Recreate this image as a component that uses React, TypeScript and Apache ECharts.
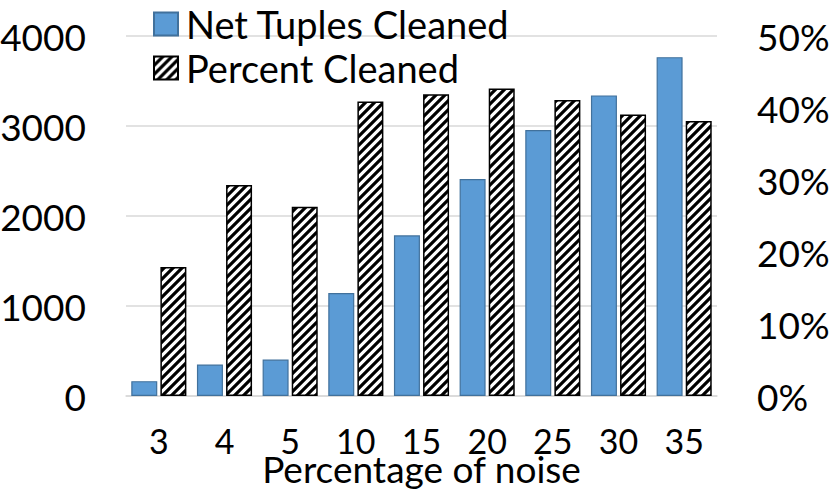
import React, { useEffect, useRef } from "react";
import * as echarts from "echarts";

const categories = ["3", "4", "5", "10", "15", "20", "25", "30", "35"];
const netTuplesCleaned = [165, 350, 405, 1145, 1785, 2410, 2955, 3340, 3765];
const percentCleaned = [17.9, 29.3, 26.3, 40.9, 41.9, 42.7, 41.1, 39.1, 38.2];
const leftTicks = { min: 0, max: 4000, interval: 1000 };
const rightTicks = { min: 0, max: 50, interval: 10 };

function makeHatch(): string {
  const s = 9;
  const c = document.createElement("canvas");
  c.width = s;
  c.height = s;
  const ctx = c.getContext("2d")!;
  ctx.fillStyle = "#ffffff";
  ctx.fillRect(0, 0, s, s);
  ctx.strokeStyle = "#000000";
  ctx.lineWidth = 3.2;
  ctx.lineCap = "square";
  const seg = (x1: number, y1: number, x2: number, y2: number) => {
    ctx.beginPath();
    ctx.moveTo(x1, y1);
    ctx.lineTo(x2, y2);
    ctx.stroke();
  };
  seg(-1, s + 1, s + 1, -1);
  seg(-s / 2 - 1, s / 2 + 1, s / 2 + 1, -s / 2 - 1);
  seg(s / 2 - 1, s * 1.5 + 1, s * 1.5 + 1, s / 2 - 1);
  return c.toDataURL();
}

export default function App() {
  const ref = useRef<HTMLDivElement>(null);
  useEffect(() => {
    document.body.style.margin = "0";
    if (!ref.current) return;
    const chart = echarts.init(ref.current, undefined, { renderer: "svg" });
    const hatch = { image: makeHatch(), repeat: "repeat" } as any;
    const font = "Lato";
    chart.setOption({
      animation: false,
      textStyle: { fontFamily: font },
      legend: {
        orient: "vertical",
        left: 148,
        top: 0,
        icon: "rect",
        itemWidth: 24,
        itemHeight: 23,
        itemGap: 6,
        textStyle: { fontSize: 38, color: "#000", fontFamily: font, padding: [0, 0, 0, 3] },
        data: ["Net Tuples Cleaned", "Percent Cleaned"],
      },
      grid: { left: 126, right: 113, top: 36, bottom: 102, outerBoundsMode: "none", containLabel: false },
      xAxis: {
        type: "category",
        data: categories,
        axisTick: { show: false },
        axisLine: { lineStyle: { color: "#D9D9D9", width: 1.5 } },
        axisLabel: { fontSize: 34, lineHeight: 26, color: "#000", margin: 31, fontFamily: font },
        name: "Percentage of noise",
        nameLocation: "middle",
        nameGap: 58,
        nameMoveOverlap: false,
        nameTextStyle: { fontSize: 37, lineHeight: 28, color: "#000", fontFamily: font },
      },
      yAxis: [
        {
          type: "value",
          min: leftTicks.min,
          max: leftTicks.max,
          interval: leftTicks.interval,
          axisLine: { show: false },
          axisTick: { show: false },
          splitLine: { lineStyle: { color: "#D9D9D9", width: 1.5 } },
          axisLabel: {
            fontSize: 37,
            color: "#000",
            margin: 40,
            fontFamily: font,
            formatter: (v: number) => String(v),
          },
        },
        {
          type: "value",
          min: rightTicks.min,
          max: rightTicks.max,
          interval: rightTicks.interval,
          position: "right",
          axisLine: { show: false },
          axisTick: { show: false },
          splitLine: { show: false },
          axisLabel: { fontSize: 37, color: "#000", margin: 40, fontFamily: font, formatter: "{value}%" },
        },
      ],
      series: [
        {
          name: "Net Tuples Cleaned",
          type: "bar",
          yAxisIndex: 0,
          data: netTuplesCleaned,
          barWidth: 26,
          barGap: "12%",
          itemStyle: { color: "#5B9BD5", borderColor: "#41719C", borderWidth: 1.2 },
        },
        {
          name: "Percent Cleaned",
          type: "bar",
          yAxisIndex: 1,
          data: percentCleaned,
          barWidth: 26,
          barGap: "12%",
          itemStyle: { color: hatch, borderColor: "#000", borderWidth: 1.5 },
        },
      ],
    });
    return () => chart.dispose();
  }, []);
  return <div ref={ref} style={{ width: 830, height: 498 }} />;
}
